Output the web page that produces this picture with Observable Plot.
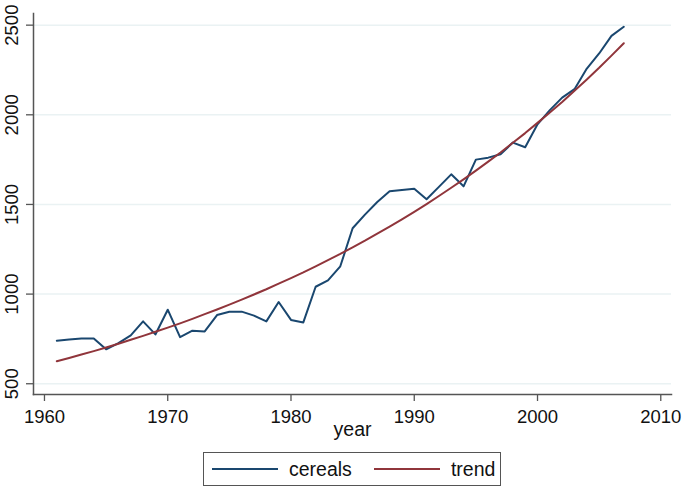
<!DOCTYPE html>
<html>
<head>
<meta charset="utf-8">
<script src="https://cdn.jsdelivr.net/npm/d3@7"></script>
<script src="https://cdn.jsdelivr.net/npm/@observablehq/plot@0.6"></script>
<style>
  html, body { margin: 0; padding: 0; background: #fff; }
  body { width: 685px; height: 487px; overflow: hidden; font-family: "Liberation Sans", Arial, Helvetica, sans-serif; }
  #legend {
    box-sizing: border-box;
    margin: 4px 0 0 203px;
    width: 298px; height: 34px;
    border: 1px solid #555;
    display: flex; align-items: center;
    font-size: 19.5px; color: #111;
  }
  #legend .sw { display: inline-block; width: 66px; height: 2px; }
  #legend .item { display: flex; align-items: center; }
</style>
</head>
<body>
<div id="chart"></div>
<div id="legend"></div>
<script>
const years = d3.range(1961, 2008);
const cereals = [740, 747, 753, 753, 692, 727, 770, 848, 775, 913,
                 760, 796, 792, 883, 902, 902, 880, 848, 956, 856,
                 842, 1041, 1077, 1155, 1367, 1443, 1514, 1573, 1581, 1588,
                 1529, 1598, 1668, 1601, 1750, 1761, 1780, 1845, 1819, 1947,
                 2026, 2096, 2143, 2258, 2342, 2440, 2491];
const trend = [625, 644, 663, 682, 702, 723, 745, 767, 790, 813,
               837, 862, 888, 914, 941, 969, 998, 1027, 1058, 1089,
               1121, 1155, 1189, 1224, 1261, 1298, 1337, 1376, 1417, 1459,
               1502, 1547, 1593, 1640, 1689, 1739, 1790, 1844, 1898, 1955,
               2013, 2072, 2134, 2197, 2262, 2330, 2399];
const seriesNames = ["cereals", "trend"];
const seriesColors = ["#1a476f", "#90353b"];
const xTicks = [1960, 1970, 1980, 1990, 2000, 2010];
const yTicks = [500, 1000, 1500, 2000, 2500];

const rows = [];
years.forEach((y, i) => {
  rows.push({year: y, value: cereals[i], series: "cereals"});
  rows.push({year: y, value: trend[i], series: "trend"});
});

const plot = Plot.plot({
  width: 685,
  height: 448,
  marginLeft: 33,
  marginRight: 14,
  marginTop: 13,
  marginBottom: 54,
  style: {fontFamily: '"Liberation Sans", Arial, Helvetica, sans-serif', background: "#fff", color: "#111"},
  x: {domain: [1959.11, 2010.87], axis: null},
  y: {domain: [440, 2565], axis: null},
  color: {domain: seriesNames, range: seriesColors},
  marks: [
    Plot.ruleY(yTicks, {stroke: "#eaf2f3", strokeWidth: 1.5}),
    Plot.line(rows, {x: "year", y: "value", z: "series", stroke: "series", strokeWidth: 2}),
    Plot.axisX({ticks: xTicks, tickSize: 7, tickPadding: 8, fontSize: 18.5, tickFormat: d => String(d), stroke: "#555", strokeWidth: 1.3, label: null}),
    Plot.axisY({ticks: yTicks, tickSize: 7, tickPadding: 9, fontSize: 18.5, tickRotate: -90, textAnchor: "middle", lineAnchor: "bottom", tickFormat: d => String(d), stroke: "#555", strokeWidth: 1.3, label: null}),
    Plot.frame({anchor: "left", stroke: "#555", strokeWidth: 1.5}),
    Plot.frame({anchor: "bottom", stroke: "#555", strokeWidth: 1.5}),
    Plot.text(["year"], {frameAnchor: "bottom", lineAnchor: "bottom", dy: 41, fontSize: 19.5, fill: "#111"})
  ]
});
document.getElementById("chart").appendChild(plot);

const legend = document.getElementById("legend");
seriesNames.forEach((name, i) => {
  const item = document.createElement("span");
  item.className = "item";
  item.style.marginLeft = i === 0 ? "8px" : "22px";
  const sw = document.createElement("span");
  sw.className = "sw";
  sw.style.background = seriesColors[i];
  const t = document.createElement("span");
  t.textContent = name;
  t.style.marginLeft = "11px";
  item.appendChild(sw);
  item.appendChild(t);
  legend.appendChild(item);
});
</script>
</body>
</html>
